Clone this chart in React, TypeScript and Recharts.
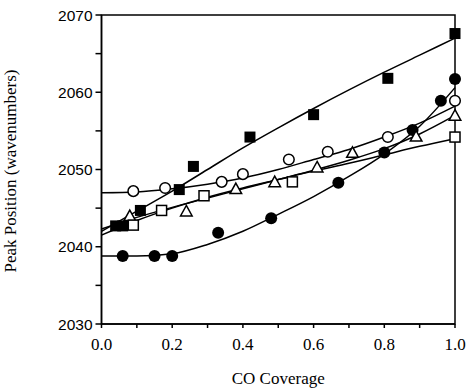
import {
  ComposedChart,
  XAxis,
  YAxis,
  Line,
  Scatter,
  ReferenceArea,
} from "recharts";

// measured points (CO coverage, peak position)
const filledSqX = [0.04, 0.06, 0.11, 0.22, 0.26, 0.42, 0.6, 0.81, 1.0];
const filledSqY = [2042.7, 2042.7, 2044.7, 2047.4, 2050.4, 2054.2, 2057.1, 2061.8, 2067.6];

const filledCircX = [0.06, 0.15, 0.2, 0.33, 0.48, 0.67, 0.8, 0.88, 0.96, 1.0];
const filledCircY = [2038.8, 2038.8, 2038.8, 2041.8, 2043.7, 2048.3, 2052.2, 2055.1, 2058.9, 2061.7];

const openCircX = [0.09, 0.18, 0.34, 0.4, 0.53, 0.64, 0.81, 1.0];
const openCircY = [2047.2, 2047.6, 2048.4, 2049.4, 2051.3, 2052.3, 2054.2, 2058.9];

const triX = [0.08, 0.24, 0.38, 0.49, 0.61, 0.71, 0.89, 1.0];
const triY = [2043.9, 2044.5, 2047.4, 2048.3, 2050.2, 2052.1, 2054.2, 2056.9];

const openSqX = [0.09, 0.17, 0.29, 0.54, 1.0];
const openSqY = [2042.8, 2044.7, 2046.6, 2048.4, 2054.2];

// fitted curves
const fitX = [0, 0.1, 0.2, 0.3, 0.4, 0.5, 0.6, 0.7, 0.8, 0.9, 1.0];
const filledSqFit = [2042.0, 2044.6, 2047.2, 2050.0, 2052.8, 2055.4, 2057.9, 2060.3, 2062.6, 2064.8, 2067.0];
const filledCircFit = [2038.8, 2038.8, 2039.1, 2040.3, 2042.0, 2044.2, 2046.5, 2049.1, 2052.0, 2055.6, 2060.6];
const openCircFit = [2047.0, 2047.1, 2047.5, 2048.1, 2048.9, 2050.0, 2051.3, 2052.6, 2054.2, 2056.0, 2058.2];
const triFit = [2042.3, 2043.8, 2045.1, 2046.3, 2047.5, 2048.7, 2049.9, 2051.2, 2052.7, 2054.6, 2057.0];
const openSqFit = [2041.5, 2043.4, 2045.0, 2046.4, 2047.6, 2048.7, 2049.8, 2050.8, 2051.9, 2053.0, 2054.0];

const xTicks = [0, 0.1, 0.2, 0.3, 0.4, 0.5, 0.6, 0.7, 0.8, 0.9, 1.0];
const yTicks = [2030, 2035, 2040, 2045, 2050, 2055, 2060, 2065, 2070];

const pts = (xs: number[], ys: number[]) => xs.map((x, i) => ({ x, y: ys[i] }));
const fit = (ys: number[]) => fitX.map((x, i) => ({ x, y: ys[i] }));

const FilledSquare = (p: any) => <rect x={p.cx - 5.5} y={p.cy - 5.5} width={11} height={11} fill="#000" />;
const FilledCircle = (p: any) => <circle cx={p.cx} cy={p.cy} r={6} fill="#000" />;
const OpenCircle = (p: any) => (
  <circle cx={p.cx} cy={p.cy} r={5.3} fill="#fff" stroke="#000" strokeWidth={1.5} />
);
const OpenSquare = (p: any) => (
  <rect x={p.cx - 5} y={p.cy - 5} width={10} height={10} fill="#fff" stroke="#000" strokeWidth={1.5} />
);
const OpenTriangle = (p: any) => (
  <polygon
    points={`${p.cx},${p.cy - 6.5} ${p.cx + 5.8},${p.cy + 4} ${p.cx - 5.8},${p.cy + 4}`}
    fill="#fff"
    stroke="#000"
    strokeWidth={1.5}
  />
);

const series = [
  { name: "filledSq", data: pts(filledSqX, filledSqY), fit: fit(filledSqFit), shape: FilledSquare },
  { name: "filledCirc", data: pts(filledCircX, filledCircY), fit: fit(filledCircFit), shape: FilledCircle },
  { name: "openCirc", data: pts(openCircX, openCircY), fit: fit(openCircFit), shape: OpenCircle },
  { name: "tri", data: pts(triX, triY), fit: fit(triFit), shape: OpenTriangle },
  { name: "openSq", data: pts(openSqX, openSqY), fit: fit(openSqFit), shape: OpenSquare },
];

export default function App() {
  return (
    <div style={{ position: "absolute", left: 0, top: 0, width: 466, height: 389, background: "#fff" }}>
      <ComposedChart width={466} height={389} margin={{ top: 15, right: 11, bottom: 0, left: 0 }}>
        <XAxis
          dataKey="x"
          type="number"
          domain={[0, 1]}
          ticks={xTicks}
          interval={0}
          allowDuplicatedCategory={false}
          tickFormatter={(v: number) => (Math.round(v * 10) % 2 === 0 ? v.toFixed(1) : "")}
          tick={{ fill: "#000", fontSize: 17, fontFamily: "Liberation Serif" }}
          tickSize={4}
          tickMargin={10}
          axisLine={{ stroke: "#000", strokeWidth: 1.5 }}
          tickLine={{ stroke: "#000", strokeWidth: 1.5 }}
          height={65}
          label={{
            value: "CO Coverage",
            position: "insideBottom",
            offset: 5,
            fill: "#000",
            fontSize: 17,
            fontFamily: "Liberation Serif",
          }}
        />
        <YAxis
          type="number"
          domain={[2030, 2070]}
          ticks={yTicks}
          interval={0}
          tickFormatter={(v: number) => (v % 10 === 0 ? String(v) : "")}
          tick={{ fill: "#000", fontSize: 15.5, fontFamily: "Liberation Sans" }}
          tickSize={6}
          tickMargin={3}
          axisLine={{ stroke: "#000", strokeWidth: 1.5 }}
          tickLine={{ stroke: "#000", strokeWidth: 1.5 }}
          width={101.5}
          label={{
            content: () => (
              <text
                transform="translate(16,171) rotate(-90)"
                textAnchor="middle"
                fill="#000"
                fontSize={17}
                fontFamily="Liberation Serif"
              >
                Peak Position (wavenumbers)
              </text>
            ),
          }}
        />
        <ReferenceArea x1={0} x2={1} y1={2030} y2={2070} fill="none" stroke="#000" strokeWidth={1.5} />
        {series.map((s) => (
          <Line
            key={s.name + "-fit"}
            data={s.fit}
            dataKey="y"
            type="monotone"
            stroke="#000"
            strokeWidth={1.5}
            dot={false}
            activeDot={false}
            isAnimationActive={false}
          />
        ))}
        {series.map((s) => (
          <Scatter key={s.name} data={s.data} dataKey="y" shape={s.shape} isAnimationActive={false} />
        ))}
      </ComposedChart>
    </div>
  );
}
